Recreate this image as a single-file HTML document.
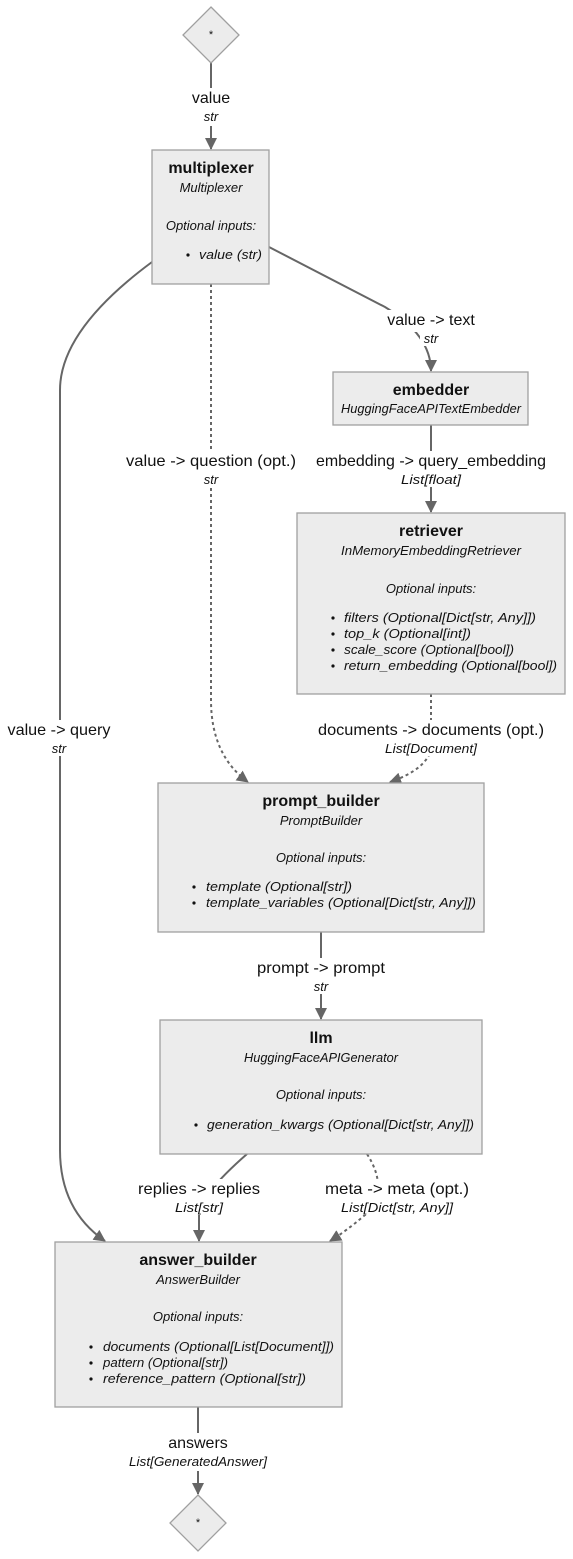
<!DOCTYPE html>
<html><head><meta charset="utf-8"><style>
html,body{margin:0;padding:0;background:#fff;}
svg{display:block;}
text{font-family:"Liberation Sans",sans-serif;fill:#111;}
.t{font-size:16px;font-weight:bold;text-anchor:middle;}
.ty{font-size:13px;font-style:italic;text-anchor:middle;}
.b{font-size:13px;font-style:italic;}
.l{font-size:16px;text-anchor:middle;}
.s{font-size:13px;font-style:italic;text-anchor:middle;}
.n{fill:#ececec;stroke:#a0a0a0;stroke-width:1.3;}
.e{fill:none;stroke:#666;stroke-width:2;}
.d{fill:none;stroke:#666;stroke-width:2;stroke-dasharray:3 3;}
.bg{fill:#fff;}
</style></head><body>
<svg width="573" height="1559" viewBox="0 0 573 1559" xmlns="http://www.w3.org/2000/svg">
<defs>
<marker id="ar" viewBox="0 0 12 12" refX="11" refY="6" markerWidth="12" markerHeight="12" orient="auto-start-reverse" markerUnits="userSpaceOnUse">
<path d="M0,0 L12,6 L0,12 z" fill="#666"/>
</marker>
</defs>

<path class="e" d="M211,63 L211,149" marker-end="url(#ar)"/>
<path class="e" d="M269,247 L385,307 Q431,335 431,371" marker-end="url(#ar)"/>
<path class="d" d="M211,284 L211,700 Q211,755 248,782" marker-end="url(#ar)"/>
<path class="e" d="M152,262 Q60,330 60,390 L60,1150 Q60,1210 105,1241" marker-end="url(#ar)"/>
<path class="e" d="M431,425 L431,512" marker-end="url(#ar)"/>
<path class="d" d="M431,694 L431,750 Q425,770 390,782" marker-end="url(#ar)"/>
<path class="e" d="M321,932 L321,1019" marker-end="url(#ar)"/>
<path class="e" d="M247,1154 Q200,1195 199,1215 L199,1241" marker-end="url(#ar)"/>
<path class="d" d="M367,1154 Q390,1190 365,1215 Q345,1232 330,1241" marker-end="url(#ar)"/>
<path class="e" d="M198,1407 L198,1494" marker-end="url(#ar)"/>

<polygon class="n" points="211,7 239,35 211,63 183,35"/>
<text x="211" y="38" style="font-size:11px;text-anchor:middle">*</text>
<polygon class="n" points="198,1495 226,1523 198,1551 170,1523"/>
<text x="198" y="1526" style="font-size:11px;text-anchor:middle">*</text>

<rect class="n" x="152" y="150" width="117" height="134"/>
<text class="t" x="211" y="173">multiplexer</text>
<text class="ty" x="211" y="192">Multiplexer</text>
<text class="ty" x="211" y="230">Optional inputs:</text>
<circle cx="188" cy="255" r="1.6" fill="#111"/>
<text class="b" x="199" y="259" textLength="63" lengthAdjust="spacingAndGlyphs">value (str)</text>

<rect class="n" x="333" y="372" width="195" height="53"/>
<text class="t" x="431" y="395">embedder</text>
<text class="ty" x="431" y="413" textLength="180" lengthAdjust="spacingAndGlyphs">HuggingFaceAPITextEmbedder</text>

<rect class="n" x="297" y="513" width="268" height="181"/>
<text class="t" x="431" y="536">retriever</text>
<text class="ty" x="431" y="555" textLength="180" lengthAdjust="spacingAndGlyphs">InMemoryEmbeddingRetriever</text>
<text class="ty" x="431" y="593">Optional inputs:</text>
<circle cx="333" cy="618" r="1.6" fill="#111"/>
<text class="b" x="344" y="622" textLength="192" lengthAdjust="spacingAndGlyphs">filters (Optional[Dict[str, Any]])</text>
<circle cx="333" cy="634" r="1.6" fill="#111"/>
<text class="b" x="344" y="638" textLength="127" lengthAdjust="spacingAndGlyphs">top_k (Optional[int])</text>
<circle cx="333" cy="650" r="1.6" fill="#111"/>
<text class="b" x="344" y="654" textLength="170" lengthAdjust="spacingAndGlyphs">scale_score (Optional[bool])</text>
<circle cx="333" cy="666" r="1.6" fill="#111"/>
<text class="b" x="344" y="670" textLength="213" lengthAdjust="spacingAndGlyphs">return_embedding (Optional[bool])</text>

<rect class="n" x="158" y="783" width="326" height="149"/>
<text class="t" x="321" y="806">prompt_builder</text>
<text class="ty" x="321" y="825">PromptBuilder</text>
<text class="ty" x="321" y="862">Optional inputs:</text>
<circle cx="194" cy="887" r="1.6" fill="#111"/>
<text class="b" x="206" y="891" textLength="146" lengthAdjust="spacingAndGlyphs">template (Optional[str])</text>
<circle cx="194" cy="903" r="1.6" fill="#111"/>
<text class="b" x="206" y="907" textLength="270" lengthAdjust="spacingAndGlyphs">template_variables (Optional[Dict[str, Any]])</text>

<rect class="n" x="160" y="1020" width="322" height="134"/>
<text class="t" x="321" y="1043">llm</text>
<text class="ty" x="321" y="1062" textLength="154" lengthAdjust="spacingAndGlyphs">HuggingFaceAPIGenerator</text>
<text class="ty" x="321" y="1099">Optional inputs:</text>
<circle cx="196" cy="1125" r="1.6" fill="#111"/>
<text class="b" x="207" y="1129" textLength="267" lengthAdjust="spacingAndGlyphs">generation_kwargs (Optional[Dict[str, Any]])</text>

<rect class="n" x="55" y="1242" width="287" height="165"/>
<text class="t" x="198" y="1265">answer_builder</text>
<text class="ty" x="198" y="1284">AnswerBuilder</text>
<text class="ty" x="198" y="1321">Optional inputs:</text>
<circle cx="91" cy="1347" r="1.6" fill="#111"/>
<text class="b" x="103" y="1351" textLength="231" lengthAdjust="spacingAndGlyphs">documents (Optional[List[Document]])</text>
<circle cx="91" cy="1363" r="1.6" fill="#111"/>
<text x="103" y="1367" font-size="13" font-style="italic" textLength="125" lengthAdjust="spacingAndGlyphs">pattern (Optional[str])</text>
<circle cx="91" cy="1379" r="1.6" fill="#111"/>
<text class="b" x="103" y="1383" textLength="203" lengthAdjust="spacingAndGlyphs">reference_pattern (Optional[str])</text>

<g>
<rect class="bg" x="190" y="88" width="42" height="38"/>
<text class="l" x="211" y="103">value</text><text class="s" x="211" y="121">str</text>

<rect class="bg" x="384" y="310" width="94" height="22"/>
<rect class="bg" x="420" y="332" width="22" height="14"/>
<text class="l" x="431" y="325">value -&gt; text</text><text class="s" x="431" y="343">str</text>

<rect class="bg" x="125" y="451" width="172" height="22"/>
<rect class="bg" x="200" y="473" width="22" height="14"/>
<text class="l" x="211" y="466" textLength="170" lengthAdjust="spacingAndGlyphs">value -&gt; question (opt.)</text><text class="s" x="211" y="484">str</text>

<rect class="bg" x="315" y="451" width="232" height="22"/>
<rect class="bg" x="400" y="473" width="62" height="14"/>
<text class="l" x="431" y="466" textLength="230" lengthAdjust="spacingAndGlyphs">embedding -&gt; query_embedding</text><text class="s" x="431" y="484" textLength="60" lengthAdjust="spacingAndGlyphs">List[float]</text>

<rect class="bg" x="7" y="720" width="104" height="22"/>
<rect class="bg" x="48" y="742" width="22" height="14"/>
<text class="l" x="59" y="735" textLength="103" lengthAdjust="spacingAndGlyphs">value -&gt; query</text><text class="s" x="59" y="753">str</text>

<rect class="bg" x="317" y="720" width="228" height="22"/>
<rect class="bg" x="384" y="742" width="94" height="14"/>
<text class="l" x="431" y="735" textLength="226" lengthAdjust="spacingAndGlyphs">documents -&gt; documents (opt.)</text><text class="s" x="431" y="753" textLength="92" lengthAdjust="spacingAndGlyphs">List[Document]</text>

<rect class="bg" x="256" y="958" width="130" height="22"/>
<rect class="bg" x="310" y="980" width="22" height="14"/>
<text class="l" x="321" y="973" textLength="128" lengthAdjust="spacingAndGlyphs">prompt -&gt; prompt</text><text class="s" x="321" y="991">str</text>

<rect class="bg" x="137" y="1179" width="124" height="22"/>
<rect class="bg" x="173" y="1201" width="52" height="14"/>
<text class="l" x="199" y="1194" textLength="122" lengthAdjust="spacingAndGlyphs">replies -&gt; replies</text><text class="s" x="199" y="1212" textLength="48" lengthAdjust="spacingAndGlyphs">List[str]</text>

<rect class="bg" x="324" y="1179" width="146" height="22"/>
<rect class="bg" x="340" y="1201" width="114" height="14"/>
<text class="l" x="397" y="1194" textLength="144" lengthAdjust="spacingAndGlyphs">meta -&gt; meta (opt.)</text><text class="s" x="397" y="1212" textLength="112" lengthAdjust="spacingAndGlyphs">List[Dict[str, Any]]</text>

<rect class="bg" x="128" y="1433" width="142" height="38"/>
<text class="l" x="198" y="1448">answers</text><text class="s" x="198" y="1466" textLength="138" lengthAdjust="spacingAndGlyphs">List[GeneratedAnswer]</text>
</g>
</svg>
</body></html>
